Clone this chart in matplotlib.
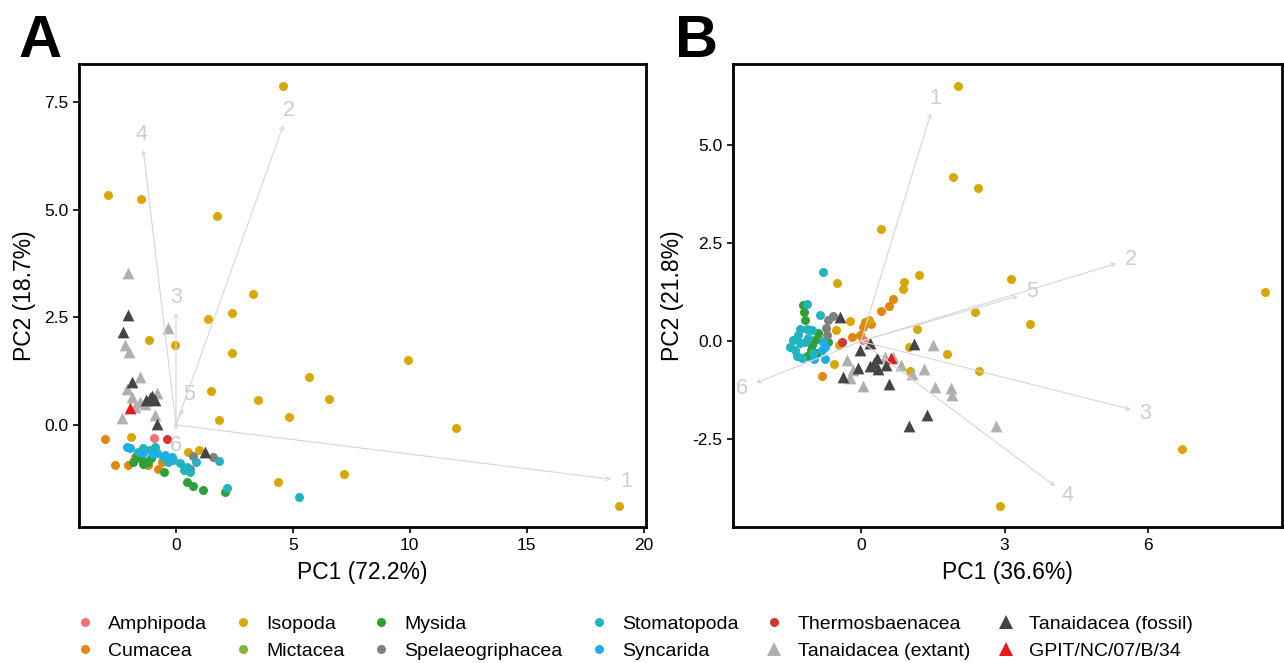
import numpy as np
import matplotlib

matplotlib.use("Agg")
from matplotlib import pyplot as plt
from matplotlib.lines import Line2D

plt.rcParams['font.family'] = ['Liberation Sans', 'DejaVu Sans']
plt.rcParams['axes.unicode_minus'] = False

# ----------------
# Data, panel A (PCA scores)
# ----------------
a_amphipoda = [(-0.93, -0.31)]
a_cumacea = [(-3.03, -0.32), (-2.61, -0.93), (-2.05, -0.93), (-1.75, -0.74),
             (-1.20, -0.93), (-0.77, -1.02), (-0.60, -0.86)]
a_isopoda = [(4.57, 7.87), (-2.91, 5.34), (-1.50, 5.24), (1.75, 4.85), (3.29, 3.04),
             (2.39, 2.60), (1.37, 2.46), (-1.15, 1.97), (-0.04, 1.86), (2.39, 1.67),
             (9.91, 1.51), (5.68, 1.11), (1.50, 0.79), (3.50, 0.58), (6.54, 0.60),
             (4.83, 0.19), (1.84, 0.12), (11.97, -0.07), (7.18, -1.14), (4.36, -1.32),
             (18.97, -1.88), (-1.92, -0.28), (0.51, -0.63), (0.98, -0.58)]
a_mictacea = [(-1.32, -0.88)]
a_mysida = [(-1.67, -0.70), (-1.45, -0.81), (-1.41, -0.90), (-1.20, -0.86),
            (-1.54, -0.74), (-1.84, -0.86), (-1.07, -0.77), (-0.51, -1.09),
            (0.47, -1.32), (0.73, -1.42), (1.15, -1.51), (2.09, -1.55)]
a_spelaeogriphacea = [(-0.21, -0.81), (0.73, -0.72), (0.60, -1.02), (1.58, -0.74)]
a_stomatopoda = [(-1.41, -0.53), (-1.11, -0.58), (-0.81, -0.65), (-0.56, -0.74),
                 (-0.34, -0.86), (-0.13, -0.81), (0.17, -0.88), (0.47, -0.97),
                 (0.60, -1.09), (0.34, -1.04), (0.85, -0.86), (1.84, -0.84),
                 (2.18, -1.46), (5.26, -1.67), (-1.62, -0.63), (-0.90, -0.51)]
a_syncarida = [(-2.09, -0.51), (-1.97, -0.53), (-1.41, -0.65), (-0.98, -0.67),
               (-0.47, -0.70), (-0.17, -0.74)]
a_thermosbaenacea = [(-0.40, -0.33)]
a_tanai_extant = [(-2.05, 3.53), (-0.34, 2.25), (-2.18, 1.86), (-2.01, 1.69),
                  (-1.54, 1.11), (-2.09, 0.84), (-1.88, 0.65), (-1.54, 0.53),
                  (-0.81, 0.74), (-0.90, 0.23), (-2.31, 0.16), (-1.75, 0.42),
                  (-1.32, 0.49)]
a_tanai_fossil = [(-2.05, 2.55), (-2.26, 2.16), (-1.88, 1.00), (-1.28, 0.58),
                  (-1.11, 0.63), (-0.90, 0.58), (-1.03, 0.67), (-0.81, 0.02),
                  (1.24, -0.63)]
a_gpit = [(-1.97, 0.39)]

# loadings (arrow tips), variables 1..6
a_load_x = [18.62, 4.59, 0.00, -1.40, 0.30, 0.00]
a_load_y = [-1.26, 6.96, 2.60, 6.38, 0.38, -0.12]

# ----------------
# Data, panel B
# ----------------
b_amphipoda = [(0.05, 0.04)]
b_cumacea = [(0.42, 0.77), (0.58, 0.89), (0.67, 1.07), (0.08, 0.48), (0.21, 0.43),
             (0.04, 0.36), (-0.19, 0.10), (-0.02, 0.15), (-0.81, -0.89)]
b_isopoda = [(2.02, 6.51), (1.92, 4.18), (2.44, 3.90), (0.42, 2.86), (1.21, 1.68),
             (0.90, 1.51), (0.88, 1.33), (3.13, 1.58), (8.44, 1.25), (2.38, 0.74),
             (3.54, 0.43), (1.17, 0.31), (1.79, -0.33), (1.00, -0.15), (2.46, -0.77),
             (6.71, -2.76), (2.90, -4.21), (-0.50, 1.48), (-0.23, 0.51), (-0.52, 0.28),
             (0.17, 0.54), (-0.46, -0.10), (-0.56, -0.59), (1.02, -0.77)]
b_mictacea = [(-0.90, 0.08)]
b_mysida = [(-1.21, 0.92), (-1.19, 0.74), (-1.17, 0.54), (-0.90, 0.20), (-1.02, -0.10),
            (-1.04, -0.23), (-1.13, -0.38), (-0.92, -0.31), (-0.69, -0.03), (-0.96, 0.03)]
b_spelaeogriphacea = [(-0.69, 0.54), (-0.58, 0.64), (-0.73, 0.33), (-0.71, 0.15)]
b_stomatopoda = [(-0.79, 1.76), (-1.13, 0.94), (-0.85, 0.66), (-1.27, 0.31), (-1.13, 0.31),
                 (-1.02, 0.28), (-1.42, 0.03), (-1.38, -0.23), (-1.27, -0.05), (-1.17, -0.03),
                 (-1.33, -0.38), (-1.23, -0.43), (-1.10, 0.08), (-1.00, -0.31),
                 (-1.48, -0.15), (-1.31, 0.15)]
b_syncarida = [(-0.79, -0.03), (-0.75, -0.15), (-0.98, -0.46), (-0.75, -0.46), (-0.81, -0.23)]
b_thermosbaenacea = [(-0.39, -0.03)]
b_tanai_extant = [(-0.29, -0.48), (-0.17, -0.74), (-0.23, -0.94), (0.04, -1.15),
                  (0.50, -0.41), (0.67, -0.41), (0.83, -0.61), (1.06, -0.84),
                  (1.31, -0.71), (1.50, -0.10), (1.54, -1.17), (1.88, -1.20),
                  (1.90, -1.38), (2.83, -2.17)]
b_tanai_fossil = [(-0.44, 0.61), (0.19, -0.05), (-0.02, -0.23), (0.33, -0.43),
                  (0.27, -0.56), (0.19, -0.64), (0.35, -0.71), (0.52, -0.61),
                  (-0.06, -0.69), (-0.38, -0.92), (0.58, -1.10), (1.10, -0.08),
                  (1.38, -1.89), (1.00, -2.17)]
b_gpit = [(0.63, -0.44)]

b_load_x = [1.46, 5.33, 5.64, 4.06, 3.28, -2.19]
b_load_y = [5.81, 1.98, -1.74, -3.70, 1.15, -1.06]

# ----------------
# Style per group (legend order)
# ----------------
names = ['Amphipoda', 'Cumacea', 'Isopoda', 'Mictacea', 'Mysida', 'Spelaeogriphacea',
         'Stomatopoda', 'Syncarida', 'Thermosbaenacea', 'Tanaidacea (extant)',
         'Tanaidacea (fossil)', 'GPIT/NC/07/B/34']
colors = ['#F07272', '#E0880F', '#D8A800', '#7DB83A', '#2EA035', '#7F7F7F',
          '#21B4BE', '#1CAEE8', '#D03737', '#B0B0B0', '#454545', '#E41A1C']
markers = ['o', 'o', 'o', 'o', 'o', 'o', 'o', 'o', 'o', '^', '^', '^']

a_groups = [a_amphipoda, a_cumacea, a_isopoda, a_mictacea, a_mysida, a_spelaeogriphacea,
            a_stomatopoda, a_syncarida, a_thermosbaenacea, a_tanai_extant,
            a_tanai_fossil, a_gpit]
b_groups = [b_amphipoda, b_cumacea, b_isopoda, b_mictacea, b_mysida, b_spelaeogriphacea,
            b_stomatopoda, b_syncarida, b_thermosbaenacea, b_tanai_extant,
            b_tanai_fossil, b_gpit]


# Function to draw one biplot panel
# Parameters: axes, list of point groups, loadings, limits, ticks, labels
def biplot(ax, groups, load_x, load_y, xlim, ylim, xticks, yticks, xlabel, ylabel):
    ax.set_xlim(xlim)
    ax.set_ylim(ylim)
    for pts, c, m in zip(groups, colors, markers):
        p = np.array(pts)
        s = 72 if m == '^' else 42
        ax.scatter(p[:, 0], p[:, 1], s=s, c=c, marker=m, linewidths=0, zorder=3)
    # loading arrows and labels
    o = ax.transData.transform((0, 0))
    for i, (lx, ly) in enumerate(zip(load_x, load_y)):
        ax.annotate('', xy=(lx, ly), xytext=(0, 0), zorder=4,
                    arrowprops=dict(arrowstyle='->', color='#D6D6D6', lw=0.8,
                                    shrinkA=0, shrinkB=0, mutation_scale=7))
        d = ax.transData.transform((lx, ly)) - o
        u = d / np.hypot(*d)
        ax.annotate(str(i + 1), xy=(lx, ly), xytext=(u[0] * 11, u[1] * 11),
                    textcoords='offset points', ha='center', va='center',
                    color='#CDCDCD', fontsize=15.5, zorder=4)
    ax.set_xticks(xticks)
    ax.set_xticklabels(['%d' % t for t in xticks])
    ax.set_yticks(yticks)
    ax.set_yticklabels(['%.1f' % t for t in yticks])
    ax.tick_params(direction='out', length=4, width=1.2, labelsize=12.5, colors='black')
    for sp in ax.spines.values():
        sp.set_linewidth(2)
    ax.set_xlabel(xlabel, fontsize=16.5, labelpad=6)
    ax.set_ylabel(ylabel, fontsize=16.5, labelpad=6)


# ----------------
# Figure
# ----------------
fig = plt.figure(figsize=(12.84, 6.63), dpi=100)
ax_a = fig.add_axes([0.0615, 0.205, 0.4415, 0.6985])
ax_b = fig.add_axes([0.571, 0.205, 0.4275, 0.6985])

biplot(ax_a, a_groups, a_load_x, a_load_y, (-4.15, 20.1), (-2.37, 8.38),
       [0, 5, 10, 15, 20], [0.0, 2.5, 5.0, 7.5], 'PC1 (72.2%)', 'PC2 (18.7%)')
biplot(ax_b, b_groups, b_load_x, b_load_y, (-2.67, 8.8), (-4.74, 7.07),
       [0, 3, 6], [-2.5, 0.0, 2.5, 5.0], 'PC1 (36.6%)', 'PC2 (21.8%)')

fig.text(0.0148, 1 - 57 / 663, 'A', fontsize=43, fontweight='bold', va='baseline')
fig.text(0.5255, 1 - 57 / 663, 'B', fontsize=43, fontweight='bold', va='baseline')

handles = [Line2D([], [], linestyle='none', marker=m, color=c,
                  markersize=10 if m == '^' else 6.5, markeredgewidth=0)
           for c, m in zip(colors, markers)]
fig.legend(handles, names, loc='lower center', bbox_to_anchor=(0.494, -0.022), ncol=6,
           frameon=False, fontsize=14, handlelength=1.0, handletextpad=0.7,
           columnspacing=1.35, labelspacing=0.5)

fig.savefig('out.png', dpi=100)
